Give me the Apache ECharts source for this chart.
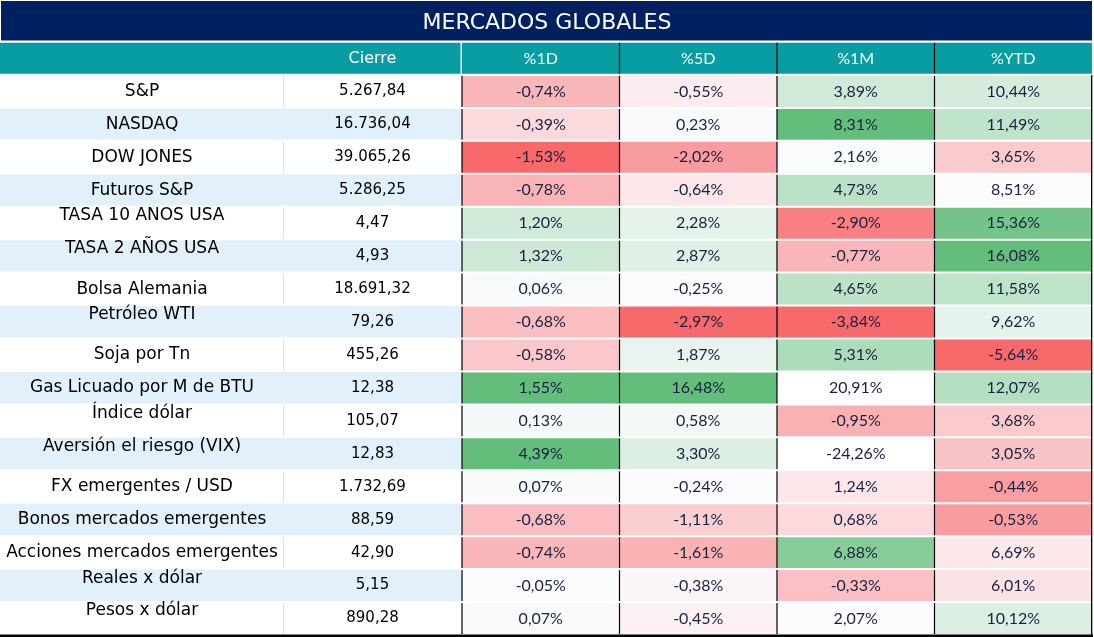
<!DOCTYPE html>
<html>
<head>
<meta charset="utf-8">
<script src="https://cdn.jsdelivr.net/npm/echarts@6/dist/echarts.min.js"></script>
<style>html,body{margin:0;padding:0;background:#fff}#c{width:1094px;height:637px}</style>
</head>
<body>
<div id="c"></div>
<script>
// ---------------- data ----------------
const titleText = 'MERCADOS GLOBALES';
const closeHeader = 'Cierre';
const pctHeaders = ['%1D', '%5D', '%1M', '%YTD'];
const names = ['S&P', 'NASDAQ', 'DOW JONES', 'Futuros S&P', 'TASA 10 ANOS USA', 'TASA 2 AÑOS USA',
  'Bolsa Alemania', 'Petróleo WTI', 'Soja por Tn', 'Gas Licuado por M de BTU', 'Índice dólar',
  'Aversión el riesgo (VIX)', 'FX emergentes / USD', 'Bonos mercados emergentes',
  'Acciones mercados emergentes', 'Reales x dólar', 'Pesos x dólar'];
const cierre = [5267.84, 16736.04, 39065.26, 5286.25, 4.47, 4.93, 18691.32, 79.26, 455.26, 12.38,
  105.07, 12.83, 1732.69, 88.59, 42.90, 5.15, 890.28];
const pct1D = [-0.74, -0.39, -1.53, -0.78, 1.20, 1.32, 0.06, -0.68, -0.58, 1.55, 0.13, 4.39, 0.07, -0.68, -0.74, -0.05, 0.07];
const pct5D = [-0.55, 0.23, -2.02, -0.64, 2.28, 2.87, -0.25, -2.97, 1.87, 16.48, 0.58, 3.30, -0.24, -1.11, -1.61, -0.38, -0.45];
const pct1M = [3.89, 8.31, 2.16, 4.73, -2.90, -0.77, 4.65, -3.84, 5.31, 20.91, -0.95, -24.26, 1.24, 0.68, 6.88, -0.33, 2.07];
const pctYTD = [10.44, 11.49, 3.65, 8.51, 15.36, 16.08, 11.58, 9.62, -5.64, 12.07, 3.68, 3.05, -0.44, -0.53, 6.69, 6.01, 10.12];

// ---------------- styling / conditional-format config ----------------
const pctCols = [pct1D, pct5D, pct1M, pctYTD];
const NAVY = '#002060', TEAL = '#079da3', BLUE = '#e2f0fb';
const RED = [248, 105, 107], MID = [252, 252, 255], GREEN = [99, 190, 123];
// cells left out of the colour scale (shown unformatted) : {column: [rows]}
const UNSCALED = {2: [9, 11]};
// cells painted at the top of the scale : {column: [rows]}
const SCALE_TOP = {0: [9]};
// name labels that sit high in their cell
const HIGH_NAME_ROWS = [4, 5, 7, 10, 11, 15, 16];

function lerp(a, b, t) { return 'rgb(' + a.map((v, i) => Math.round(v + (b[i] - v) * t)).join(',') + ')'; }
function pctile(s, p) { const k = (s.length - 1) * p, lo = Math.floor(k), hi = Math.ceil(k); return s[lo] + (s[hi] - s[lo]) * (k - lo); }
const scales = pctCols.map((vals, c) => {
  const ex = UNSCALED[c] || [];
  const s = vals.filter((v, i) => !ex.includes(i)).sort((a, b) => a - b);
  return {min: s[0], mid: pctile(s, 0.5), max: s[s.length - 1]};
});
function cellColor(c, i) {
  if ((UNSCALED[c] || []).includes(i)) return '#ffffff';
  if ((SCALE_TOP[c] || []).includes(i)) return lerp(MID, GREEN, 1);
  const v = pctCols[c][i], sc = scales[c];
  if (v <= sc.mid) return lerp(MID, RED, Math.min(1, (sc.mid - v) / (sc.mid - sc.min)));
  return lerp(MID, GREEN, Math.min(1, (v - sc.mid) / (sc.max - sc.mid)));
}
function fmtNum(v) { const p = v.toFixed(2).split('.'); return p[0].replace(/\B(?=(\d{3})+(?!\d))/g, '.') + ',' + p[1]; }
function fmtPct(v) { return v.toFixed(2).replace('.', ',') + '%'; }

const rowIdx = [0].concat(names.map((_, i) => i + 1)); // row 0 = header

function cellBox(api, x, r) {
  const c = api.coord([x, r]), s = api.size([1, 1]);
  return {cx: c[0], cy: c[1], x0: c[0] - s[0] / 2, y0: c[1] - s[1] / 2, w: s[0], h: s[1]};
}

function nameCell(params, api) {
  const r = api.value(1), b = cellBox(api, 0, r);
  if (r === 0) return {type: 'rect', shape: {x: b.x0, y: b.y0 + 0.7, width: b.w, height: b.h - 2}, style: {fill: TEAL}};
  const i = r - 1, kids = [];
  kids.push({type: 'rect', shape: {x: b.x0, y: b.y0 + 0.5, width: b.w, height: b.h - 1.5}, style: {fill: i % 2 ? BLUE : '#fff'}});
  if (i % 2 === 0) kids.push({type: 'rect', shape: {x: b.x0 + b.w - 0.8, y: b.y0 + 1, width: 1, height: b.h - 2}, style: {fill: '#d9d9d9'}});
  kids.push({type: 'text', style: {text: names[i], x: b.cx, y: b.cy + (HIGH_NAME_ROWS.includes(i) ? -7.5 : 0),
    align: 'center', verticalAlign: 'middle', fill: '#000', fontSize: 17, fontFamily: 'DejaVu Sans'}});
  return {type: 'group', children: kids};
}

function closeCell(params, api) {
  const r = api.value(1), b = cellBox(api, 0, r);
  if (r === 0) return {type: 'group', children: [
    {type: 'rect', shape: {x: b.x0, y: b.y0 + 0.7, width: b.w - 0.5, height: b.h - 2}, style: {fill: TEAL}},
    {type: 'text', style: {text: closeHeader, x: b.cx, y: b.cy + 0.5, align: 'center', verticalAlign: 'middle', fill: '#fff', fontSize: 16, fontFamily: 'DejaVu Sans'}}
  ]};
  const i = r - 1;
  return {type: 'group', children: [
    {type: 'rect', shape: {x: b.x0, y: b.y0 + 0.5, width: b.w, height: b.h - 1.5}, style: {fill: i % 2 ? BLUE : '#fff'}},
    {type: 'text', style: {text: fmtNum(cierre[i]), x: b.cx, y: b.cy, align: 'center', verticalAlign: 'middle', fill: '#000', fontSize: 15, fontFamily: 'DejaVu Sans'}}
  ]};
}

function pctCell(params, api) {
  const c = api.value(0), r = api.value(1), b = cellBox(api, c, r);
  const kids = [];
  if (r === 0) {
    kids.push({type: 'rect', shape: {x: b.x0, y: b.y0 + 0.7, width: b.w, height: b.h - 2}, style: {fill: TEAL}});
    if (c > 0) kids.push({type: 'rect', shape: {x: b.x0 - 0.6, y: b.y0 + 0.7, width: 1.2, height: b.h - 2}, style: {fill: '#000'}});
    kids.push({type: 'text', style: {text: pctHeaders[c], x: b.cx, y: b.cy + 0.5, align: 'center', verticalAlign: 'middle', fill: '#fff', fontSize: 16, fontFamily: 'Lato'}});
    return {type: 'group', children: kids};
  }
  const i = r - 1;
  kids.push({type: 'rect', shape: {x: b.x0, y: b.y0 + 1, width: b.w, height: b.h - 2}, style: {fill: cellColor(c, i)}});
  kids.push({type: 'rect', shape: {x: b.x0 - 0.6, y: b.y0 + 1, width: 1.2, height: b.h - 2}, style: {fill: '#000'}});
  if (c === pctHeaders.length - 1) kids.push({type: 'rect', shape: {x: b.x0 + b.w - 1, y: b.y0, width: 1.3, height: b.h}, style: {fill: '#000'}});
  kids.push({type: 'text', style: {text: fmtPct(pctCols[c][i]), x: b.cx, y: b.cy, align: 'center', verticalAlign: 'middle', fill: '#1a2140', fontSize: 16, fontFamily: 'Lato'}});
  return {type: 'group', children: kids};
}

const nameData = rowIdx.map(r => [0, r]);
const pctData = [];
pctHeaders.forEach((h, c) => rowIdx.forEach(r => pctData.push([c, r])));

function catX(g, n) { return {gridIndex: g, type: 'category', data: Array.from({length: n}, (_, i) => i), show: false}; }
function catY(g) { return {gridIndex: g, type: 'category', data: rowIdx, inverse: true, show: false}; }

const chart = echarts.init(document.getElementById('c'), null, {renderer: 'canvas'});
chart.setOption({
  animation: false,
  backgroundColor: '#fff',
  title: {text: titleText, left: 'center', top: 7, z: 10,
    textStyle: {color: '#fff', fontSize: 22, fontWeight: 'normal', fontFamily: 'DejaVu Sans'}},
  graphic: [
    {type: 'rect', z: 0, shape: {x: 1, y: 1, width: 1091, height: 39.5}, style: {fill: NAVY}},
    {type: 'rect', z: 100, shape: {x: 0, y: 634.6, width: 1093, height: 2.4}, style: {fill: '#000'}}
  ],
  grid: [
    {left: 0, top: 42, width: 284, bottom: 2},
    {left: 284, top: 42, width: 177, bottom: 2},
    {left: 462, top: 42, width: 630, bottom: 2}
  ],
  xAxis: [catX(0, 1), catX(1, 1), catX(2, pctHeaders.length)],
  yAxis: [catY(0), catY(1), catY(2)],
  series: [
    {type: 'custom', xAxisIndex: 0, yAxisIndex: 0, data: nameData, renderItem: nameCell, encode: {x: 0, y: 1}},
    {type: 'custom', xAxisIndex: 1, yAxisIndex: 1, data: nameData, renderItem: closeCell, encode: {x: 0, y: 1}},
    {type: 'custom', xAxisIndex: 2, yAxisIndex: 2, data: pctData, renderItem: pctCell, encode: {x: 0, y: 1}}
  ]
});
</script>
</body>
</html>
